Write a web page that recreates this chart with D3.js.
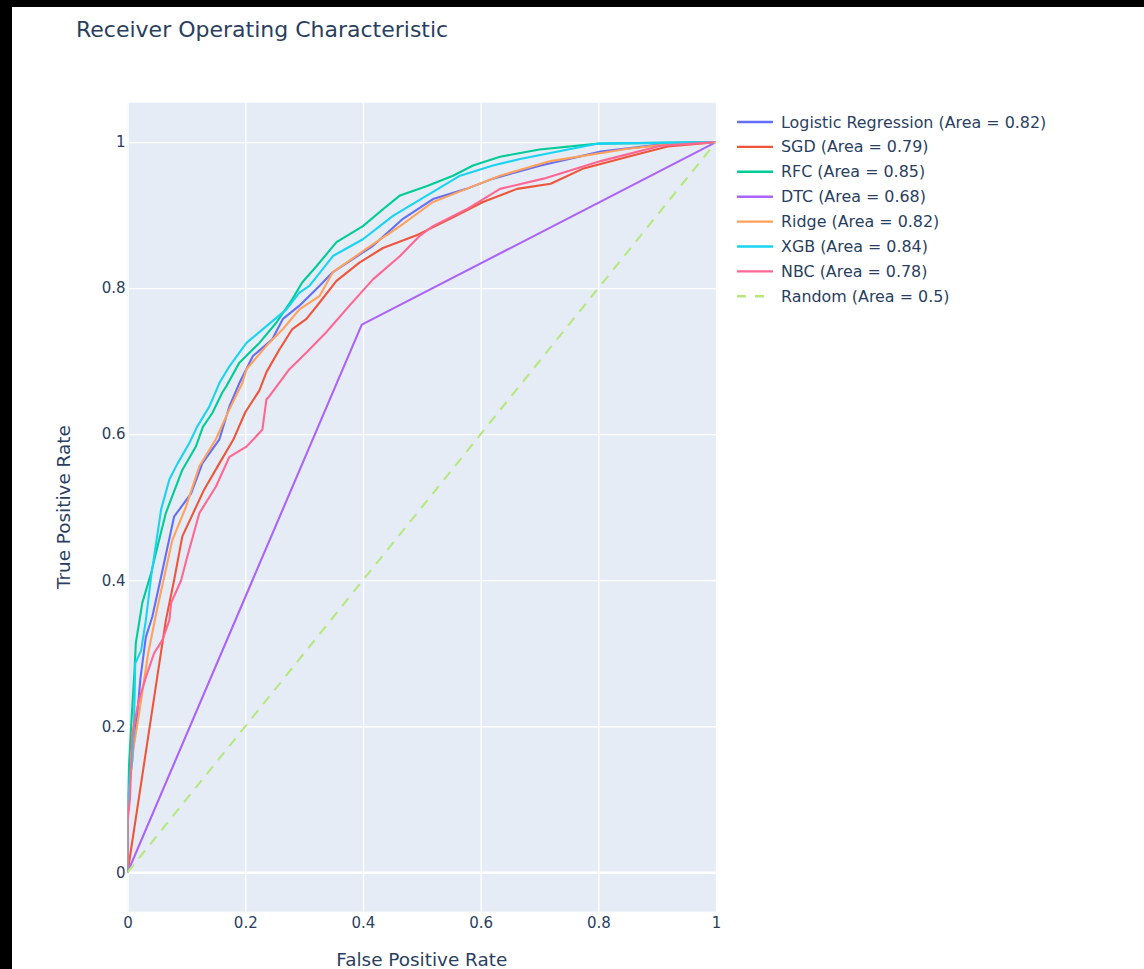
<!DOCTYPE html>
<html>
<head>
<meta charset="utf-8">
<script src="https://cdn.jsdelivr.net/npm/d3@7"></script>
<style>
  html, body { margin: 0; padding: 0; background: #fff; }
  svg { display: block; }
</style>
</head>
<body>
<svg id="chart" width="1144" height="969"></svg>
<script>
// ---------------- DATA ----------------
const seriesNames = ["Logistic Regression (Area = 0.82)", "SGD (Area = 0.79)", "RFC (Area = 0.85)", "DTC (Area = 0.68)", "Ridge (Area = 0.82)", "XGB (Area = 0.84)", "NBC (Area = 0.78)", "Random (Area = 0.5)"];
const seriesColors = ["#636efa", "#EF553B", "#00cc96", "#ab63fa", "#FFA15A", "#19d3f3", "#FF6692", "#B6E880"];

const lrFpr = [0, 0, 0.008, 0.016, 0.022, 0.031, 0.042, 0.057, 0.079, 0.108, 0.127, 0.156, 0.173, 0.19, 0.213, 0.246, 0.264, 0.292, 0.326, 0.349, 0.417, 0.468, 0.519, 0.576, 0.621, 0.702, 0.804, 0.918, 1];
const lrTpr = [0, 0.1, 0.16, 0.212, 0.267, 0.322, 0.35, 0.405, 0.487, 0.519, 0.56, 0.593, 0.638, 0.67, 0.707, 0.73, 0.758, 0.776, 0.803, 0.822, 0.858, 0.895, 0.922, 0.936, 0.95, 0.968, 0.987, 0.998, 1];

const sgdFpr = [0, 0.065, 0.079, 0.093, 0.13, 0.156, 0.18, 0.2, 0.224, 0.236, 0.258, 0.28, 0.304, 0.326, 0.355, 0.394, 0.434, 0.49, 0.548, 0.604, 0.662, 0.719, 0.775, 0.86, 0.918, 1];
const sgdTpr = [0, 0.345, 0.4, 0.46, 0.524, 0.56, 0.593, 0.63, 0.66, 0.685, 0.716, 0.744, 0.758, 0.78, 0.81, 0.835, 0.855, 0.872, 0.895, 0.918, 0.936, 0.943, 0.964, 0.982, 0.994, 1];

const rfcFpr = [0, 0, 0.006, 0.012, 0.014, 0.025, 0.04, 0.048, 0.065, 0.093, 0.116, 0.128, 0.144, 0.161, 0.168, 0.19, 0.224, 0.253, 0.28, 0.297, 0.321, 0.355, 0.4, 0.434, 0.463, 0.509, 0.553, 0.587, 0.633, 0.7, 0.8, 1];
const rfcTpr = [0, 0.11, 0.2, 0.28, 0.314, 0.369, 0.41, 0.437, 0.492, 0.551, 0.583, 0.61, 0.629, 0.657, 0.666, 0.698, 0.725, 0.753, 0.785, 0.808, 0.83, 0.863, 0.885, 0.908, 0.927, 0.94, 0.954, 0.968, 0.98, 0.99, 0.998, 1];

const dtcFpr = [0, 0.398, 1];
const dtcTpr = [0, 0.75, 1];

const ridgeFpr = [0, 0, 0.01, 0.02, 0.035, 0.05, 0.076, 0.099, 0.122, 0.15, 0.173, 0.195, 0.202, 0.236, 0.264, 0.292, 0.326, 0.349, 0.406, 0.463, 0.519, 0.576, 0.633, 0.719, 0.85, 0.93, 1];
const ridgeTpr = [0, 0.09, 0.17, 0.22, 0.3, 0.36, 0.455, 0.5, 0.556, 0.593, 0.634, 0.67, 0.689, 0.721, 0.744, 0.771, 0.789, 0.822, 0.854, 0.885, 0.918, 0.936, 0.954, 0.974, 0.991, 0.998, 1];

const xgbFpr = [0, 0, 0.004, 0.008, 0.011, 0.013, 0.023, 0.031, 0.04, 0.057, 0.071, 0.085, 0.105, 0.118, 0.139, 0.156, 0.173, 0.202, 0.236, 0.27, 0.292, 0.309, 0.349, 0.4, 0.451, 0.519, 0.565, 0.621, 0.667, 0.8, 1];
const xgbTpr = [0, 0.075, 0.13, 0.153, 0.208, 0.286, 0.304, 0.345, 0.405, 0.497, 0.538, 0.56, 0.588, 0.61, 0.638, 0.67, 0.693, 0.725, 0.748, 0.771, 0.794, 0.803, 0.844, 0.867, 0.899, 0.932, 0.954, 0.968, 0.977, 0.998, 1];

const nbcFpr = [0, 0, 0.004, 0.008, 0.019, 0.031, 0.045, 0.059, 0.071, 0.074, 0.091, 0.1, 0.122, 0.15, 0.173, 0.202, 0.229, 0.236, 0.241, 0.275, 0.304, 0.338, 0.377, 0.417, 0.463, 0.497, 0.519, 0.576, 0.633, 0.707, 0.804, 0.906, 1];
const nbcTpr = [0, 0.07, 0.1, 0.19, 0.235, 0.267, 0.3, 0.318, 0.345, 0.369, 0.4, 0.428, 0.492, 0.528, 0.569, 0.583, 0.606, 0.648, 0.652, 0.689, 0.712, 0.74, 0.776, 0.812, 0.844, 0.872, 0.885, 0.908, 0.936, 0.95, 0.974, 0.995, 1];

const randomFpr = [0, 1];
const randomTpr = [0, 1];

const xTicks = [0, 0.2, 0.4, 0.6, 0.8, 1];
const yTicks = [0, 0.2, 0.4, 0.6, 0.8, 1];
const titleText = "Receiver Operating Characteristic";
const xTitle = "False Positive Rate";
const yTitle = "True Positive Rate";

// -------------- BUILD --------------
const allFpr = [lrFpr, sgdFpr, rfcFpr, dtcFpr, ridgeFpr, xgbFpr, nbcFpr, randomFpr];
const allTpr = [lrTpr, sgdTpr, rfcTpr, dtcTpr, ridgeTpr, xgbTpr, nbcTpr, randomTpr];
const series = seriesNames.map((name, i) => ({
  name, color: seriesColors[i], dashed: i === 7,
  pts: allFpr[i].map((x, j) => [x, allTpr[i][j]])
}));

const FONT = "'DejaVu Sans', verdana, arial, sans-serif";
const TXT = "#2a3f5f";
const svg = d3.select("#chart");

const plot = { left: 127.6, right: 716, top: 102.7, bottom: 911.7 };
const x = d3.scaleLinear().domain([0, 1]).range([plot.left, plot.right]);
const y = d3.scaleLinear().domain([-0.054, 1.054]).range([plot.bottom, plot.top]);

svg.append("rect").attr("x", 0).attr("y", 0).attr("width", 1144).attr("height", 969).attr("fill", "#fff");
svg.append("rect").attr("x", 0).attr("y", 0).attr("width", 1144).attr("height", 7).attr("fill", "#000");
svg.append("rect").attr("x", 0).attr("y", 0).attr("width", 12).attr("height", 969).attr("fill", "#000");

svg.append("rect")
  .attr("x", plot.left).attr("y", plot.top)
  .attr("width", plot.right - plot.left).attr("height", plot.bottom - plot.top)
  .attr("fill", "#E5ECF6");

const gx = svg.append("g")
  .attr("transform", `translate(0,${plot.bottom})`)
  .call(d3.axisBottom(x).tickValues(xTicks).tickSize(-(plot.bottom - plot.top)).tickFormat(d => d3.format("~g")(d)).tickPadding(6));
gx.select(".domain").remove();
gx.selectAll(".tick line").attr("stroke", "#fff").attr("stroke-width", 1.3);
gx.selectAll(".tick text").attr("fill", TXT).attr("font-family", FONT).attr("font-size", 15);

const gy = svg.append("g")
  .attr("transform", `translate(${plot.left},0)`)
  .call(d3.axisLeft(y).tickValues(yTicks).tickSize(-(plot.right - plot.left)).tickFormat(d => d3.format("~g")(d)).tickPadding(2));
gy.select(".domain").remove();
gy.selectAll(".tick line").attr("stroke", "#fff").attr("stroke-width", d => d === 0 ? 2.5 : 1.3);
gy.selectAll(".tick text").attr("fill", TXT).attr("font-family", FONT).attr("font-size", 15);

svg.append("clipPath").attr("id", "clip").append("rect")
  .attr("x", plot.left).attr("y", plot.top).attr("width", plot.right - plot.left).attr("height", plot.bottom - plot.top);
const line = d3.line().x(d => x(d[0])).y(d => y(d[1]));
const lines = svg.append("g").attr("clip-path", "url(#clip)");
series.forEach(s => {
  lines.append("path")
    .attr("d", line(s.pts))
    .attr("fill", "none")
    .attr("stroke", s.color)
    .attr("stroke-width", 2.1)
    .attr("stroke-linejoin", "round")
    .attr("stroke-dasharray", s.dashed ? "10,8" : null);
});

svg.append("text").attr("x", 76).attr("y", 37)
  .attr("font-family", FONT).attr("font-size", 22).attr("fill", TXT)
  .text(titleText);

svg.append("text").attr("x", (plot.left + plot.right) / 2).attr("y", 966)
  .attr("text-anchor", "middle").attr("font-family", FONT).attr("font-size", 18.4).attr("fill", TXT)
  .text(xTitle);
svg.append("text")
  .attr("transform", `translate(70,${(plot.top + plot.bottom) / 2}) rotate(-90)`)
  .attr("text-anchor", "middle").attr("font-family", FONT).attr("font-size", 18.4).attr("fill", TXT)
  .text(yTitle);

const leg = svg.append("g").attr("transform", "translate(737,122)");
series.forEach((s, i) => {
  const g = leg.append("g").attr("transform", `translate(0,${i * 24.9})`);
  g.append("line").attr("x1", 0).attr("x2", 36).attr("y1", 0).attr("y2", 0)
    .attr("stroke", s.color).attr("stroke-width", 2.4)
    .attr("stroke-dasharray", s.dashed ? "9,9" : null);
  g.append("text").attr("x", 44).attr("y", 0).attr("dy", "0.35em")
    .attr("font-family", FONT).attr("font-size", 15.9).attr("fill", TXT)
    .text(s.name);
});
</script>
</body>
</html>
